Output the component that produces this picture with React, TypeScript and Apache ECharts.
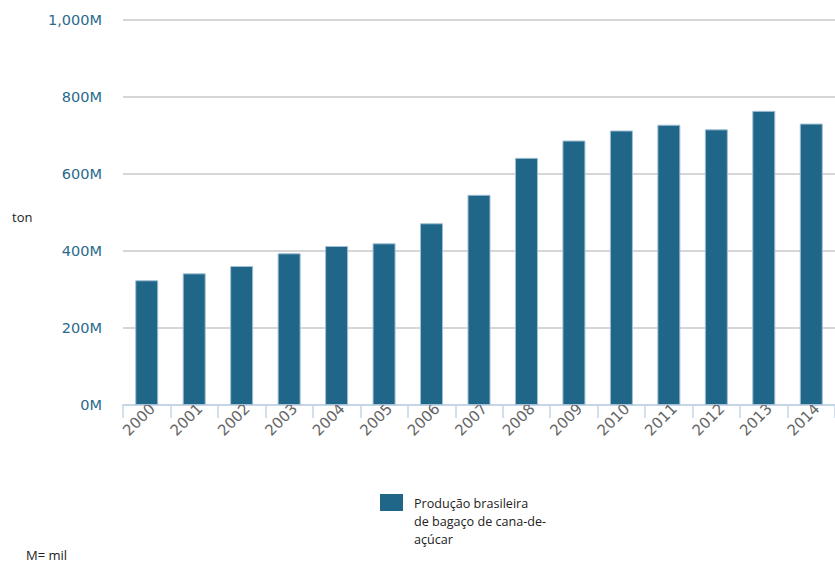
import React, { useEffect, useRef } from "react";
import * as echarts from "echarts";

const years = ["2000", "2001", "2002", "2003", "2004", "2005", "2006", "2007", "2008", "2009", "2010", "2011", "2012", "2013", "2014"];
const production = [324, 342, 361, 394, 413, 420, 472, 546, 642, 687, 713, 728, 716, 764, 731];
const seriesName = "Produção brasileira\nde bagaço de cana-de-\naçúcar";
const yTicks = { min: 0, max: 1000, interval: 200 };

export default function App() {
  const ref = useRef<HTMLDivElement>(null);
  useEffect(() => {
    if (!ref.current) return;
    const chart = echarts.init(ref.current, undefined, { renderer: "svg" });
    chart.setOption({
      animation: false,
      backgroundColor: "#ffffff",
      grid: { left: 123, top: 20, width: 718, height: 385, containLabel: false },
      xAxis: {
        type: "category",
        data: years,
        boundaryGap: true,
        axisLine: { show: true, lineStyle: { color: "#c6d5e6", width: 2 } },
        axisTick: { show: true, length: 13, alignWithLabel: false, lineStyle: { color: "#c6d5e6", width: 1.5 } },
        axisLabel: {
          rotate: 45,
          margin: 7,
          color: "#666666",
          fontSize: 15,
          fontFamily: "DejaVu Sans",
          interval: 0,
          padding: [16, -8, 0, 0],
        },
      },
      yAxis: {
        type: "value",
        min: yTicks.min,
        max: yTicks.max,
        interval: yTicks.interval,
        axisLine: { show: false },
        axisTick: { show: false },
        splitLine: { show: true, lineStyle: { color: "#c8c8c8", width: 1.5 } },
        axisLabel: {
          margin: 21,
          color: "#2b6a8d",
          fontSize: 14.5,
          fontFamily: "DejaVu Sans",
          formatter: (v: number) => v.toLocaleString("en-US") + "M",
        },
      },
      series: [
        {
          name: seriesName,
          type: "bar",
          data: production,
          barWidth: 23,
          itemStyle: { color: "#1f6688", borderColor: "#a3bfd3", borderWidth: 1 },
        },
      ],
      graphic: [
        {
          type: "text",
          left: 12,
          top: 210,
          style: { text: "ton", fontSize: 13, fontFamily: "Open Sans", fill: "#222222" },
        },
        {
          type: "rect",
          shape: { x: 380, y: 494, width: 23, height: 17 },
          style: { fill: "#1f6688" },
        },
        {
          type: "text",
          left: 414,
          top: 494,
          style: { text: seriesName, fontSize: 12.6, lineHeight: 18, fontFamily: "Open Sans", fill: "#222222" },
        },
        {
          type: "text",
          left: 26,
          top: 548,
          style: { text: "M= mil", fontSize: 13, fontFamily: "Open Sans", fill: "#222222" },
        },
      ],
    });
    return () => chart.dispose();
  }, []);
  return (
    <div
      ref={ref}
      style={{ position: "absolute", left: 0, top: 0, width: 835, height: 562 }}
    />
  );
}
